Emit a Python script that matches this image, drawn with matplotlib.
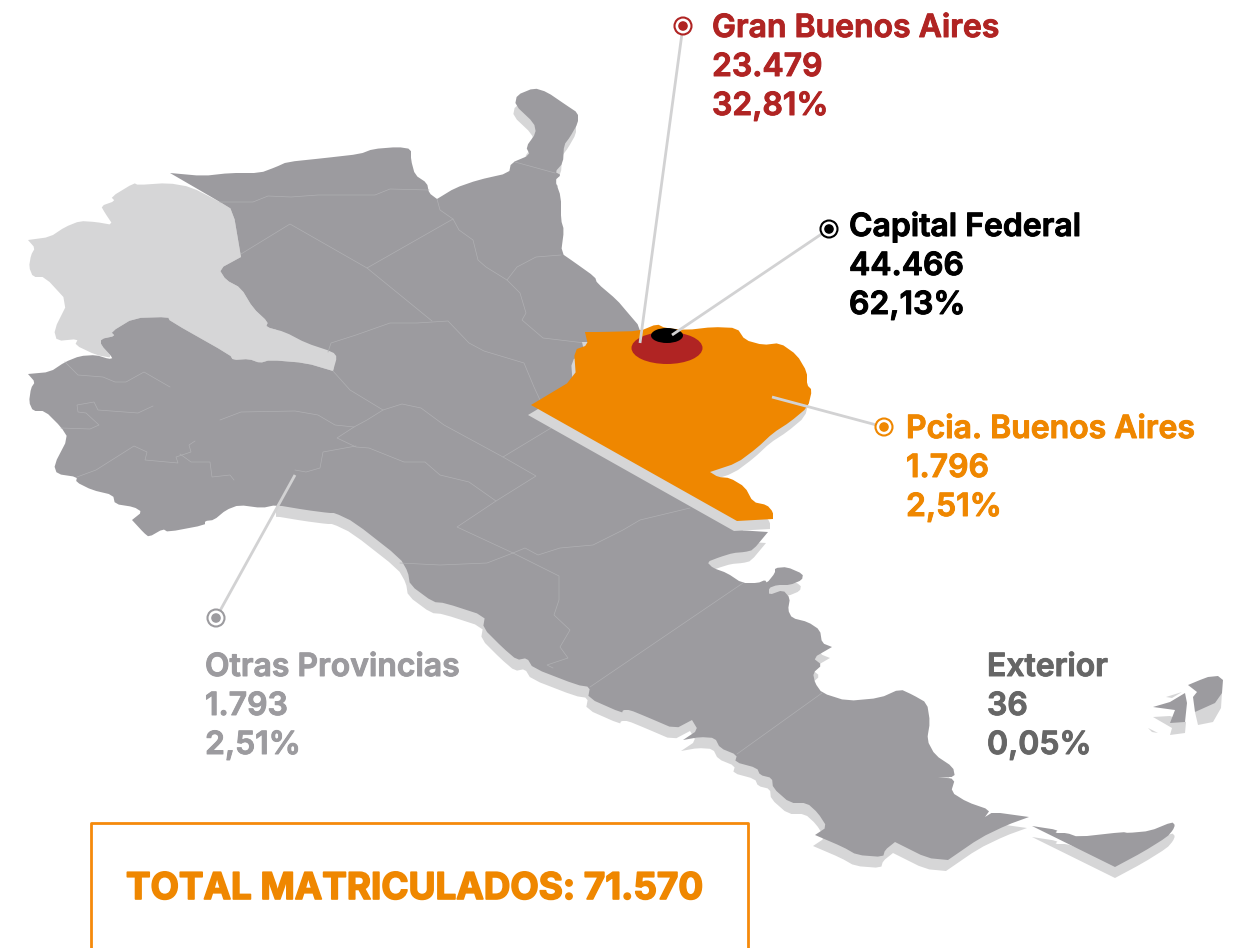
import matplotlib
matplotlib.use('Agg')
import matplotlib.pyplot as plt
import matplotlib.patheffects as pe
from matplotlib.patches import Polygon, Ellipse, Circle, Rectangle

# label data
regions = ['Gran Buenos Aires', 'Capital Federal', 'Pcia. Buenos Aires', 'Otras Provincias', 'Exterior']
counts = ['23.479', '44.466', '1.796', '1.793', '36']
shares = ['32,81%', '62,13%', '2,51%', '2,51%', '0,05%']
total_label = 'TOTAL MATRICULADOS: 71.570'

text_colors = ['#b02423', '#000000', '#ef8700', '#9c9b9f', '#666666']
text_x = [712, 849, 906, 205, 987]
text_y = [37, 236, 438, 676, 676]

# leader lines: marker centre, then the end on the map
marker_xy = [(683, 26), (829, 229), (884, 427), (216, 618)]
leader_end = [(640, 343), (672, 335), (772, 397), (295, 475)]

# map outlines, in picture pixels; a repeated point keeps a sharp tip
mainland = [(170,173),(170,173),(203,176),(230,173),(260,173),(276,167),(287,162),(325,158),(360,154),(373,149),(398,147),
    (411,149),(411,160),(415,175),(427,183),(429,193),(437,199),(437,199),(455,188),(478,180),(509,173),(511,163),(530,155),
    (526,147),(536,133),(534,123),(515,105),(517,95),(534,88),(547,92),(566,105),(578,113),(578,123),(570,137),
    (564,145),(563,163),(555,172),(561,175),(555,180),(561,197),(561,220),(564,230),(561,253),(574,262),(595,277),
    (597,283),(617,300),(628,313),(640,327),(660,400),(700,500),(737,530),(768,532),(768,532),(753,550),(745,552),(733,553),(720,557),(707,562),
    (713,568),(727,573),(742,583),(758,583),(765,580),(767,583),(775,573),(775,568),(787,567),(803,574),(802,580),
    (790,585),(777,585),(769,588),(769,595),(783,590),(790,598),(788,610),(792,618),(808,622),(820,630),(822,643),
    (832,647),(832,647),(813,658),(822,665),(813,673),(815,683),(822,693),(847,701),(880,698),(900,689),(913,695),(927,703),
    (930,722),(927,740),(935,755),(953,767),(955,777),(938,777),(938,777),(955,779),(951,792),(967,802),(990,810),(985,817),(985,817),
    (993,812),(1029,817),(1029,817),(1007,825),(980,838),(948,860),(948,860),(927,858),(895,842),(895,842),(885,850),(883,857),(857,855),(843,847),
    (815,835),(815,835),(827,827),(818,813),(807,803),(790,803),(773,788),(772,778),(760,775),(757,768),(735,762),(737,755),
    (720,748),(715,738),(700,737),(683,740),(683,740),(698,730),(692,720),(692,720),(675,729),(647,717),(630,710),(623,710),(622,713),
    (588,698),(590,687),(577,685),(533,668),(527,658),(517,660),(503,648),(483,628),(485,616),(445,603),(433,602),
    (410,585),(408,572),(400,558),(354,522),(335,513),(329,513),(306,510),(276,505),(262,508),(239,505),(226,510),
    (214,520),(205,521),(205,525),(168,532),(163,529),(149,537),(144,533),(132,520),(132,520),(142,512),(134,507),(115,504),
    (113,495),(92,490),(76,482),(77,477),(57,474),(54,465),(68,438),(61,427),(45,411),(33,411),(29,402),(31,388),
    (35,382),(28,374),(28,374),(50,372),(65,362),(80,356),(96,355),(109,359),(113,358),(101,345),(101,339),(115,336),(111,332),
    (134,318),(168,317),(170,321),(230,355),(233,360),(249,359),(260,363),(270,360),(306,363),(333,371),(333,371),(337,357),
    (333,352),(306,343),(285,332),(266,327),(268,322),(253,308),(241,288),(226,280),(219,269),(241,257),(241,257),(233,210),
    (220,202)]

pale_west = [(134,183),(138,185),(168,183),(191,187),(220,202),(233,210),(241,257),(241,257),(219,269),(226,280),(241,288),
    (253,308),(268,322),(266,327),(285,332),(306,343),(333,352),(337,357),(333,371),(333,371),(306,363),(270,360),(260,363),
    (249,359),(233,360),(230,355),(170,321),(168,317),(134,318),(111,332),(115,336),(101,339),(101,345),(113,358),
    (96,355),(75,345),(78,339),(57,341),(54,330),(68,302),(45,277),(33,277),(29,267),(31,255),(35,248),(28,240),(28,240),
    (50,237),(65,227),(80,221),(96,222),(113,225),(105,213),(101,206),(115,201),(111,197)]

buenos_aires = [(531,405),(531,405),(576,378),(574,350),(588,345),(585,332),(585,332),(600,332),(640,331),(657,324),(665,328),(687,330),
    (713,327),(737,328),(745,340),(763,345),(780,343),(797,355),(807,372),(807,385),(812,390),(808,407),(790,422),
    (773,433),(757,448),(737,463),(710,472),(710,472),(718,477),(730,478),(745,487),(753,502),(767,505),(773,512),(773,519),(773,519),
    (737,521),(737,521)]

tierra_del_fuego = [(1032,826),(1032,826),(1058,830),(1055,833),(1067,833),(1078,837),(1123,832),(1128,833),(1150,831),
    (1172,822),(1175,825),(1173,830),(1167,837),(1143,852),(1115,867),(1115,867)]

malvinas_e = [(1188,685),(1200,680),(1208,677),(1218,676),(1223,680),(1222,693),(1215,703),(1195,712),(1193,697),(1197,692)]
malvinas_w = [(1153,707),(1170,702),(1185,693),(1187,703),(1185,722),(1170,723),(1175,710)]
malvinas_shadow = [[(1195,712),(1222,692),(1221,708),(1213,722),(1198,725)],
    [(1153,717),(1170,716),(1186,722),(1185,733),(1170,735),(1172,728)],
    [(1166,697),(1182,692),(1172,698)], [(1148,728),(1158,733),(1152,732)]]

borders = [
    [(220,202),(253,202),(268,196),(291,197),(318,195),(375,195),(390,189),(429,190)],
    [(241,254),(290,224),(367,268),(453,219)],
    [(367,268),(432,321)],
    [(437,199),(440,210),(453,219),(459,230),(473,240),(478,260),(486,267),(507,280),(520,293),(526,313),(522,320),(543,338),(585,343)],
    [(561,255),(536,257),(517,267),(507,280)],
    [(515,162),(555,173)],
    [(328,352),(331,343),(356,335),(390,323),(417,323),(448,321),(469,343),(484,351),(524,363),(534,387),(540,400)],
    [(333,371),(350,390),(383,410),(402,404),(421,408),(444,425),(503,457),(536,476),(496,501),(457,527),(513,553)],
    [(503,457),(551,428)],
    [(383,410),(367,420),(354,427),(337,438),(356,447),(369,448),(404,462),(425,462),(440,475),(469,482),(496,501)],
    [(220,420),(241,412),(295,411),(318,415),(335,425),(354,427)],
    [(356,446),(323,452),(320,468),(306,472),(295,470)],
    [(77,477),(96,470),(134,446),(147,452),(145,460),(178,463),(176,457),(191,452),(189,445),(195,441)],
    [(180,454),(191,462),(210,462),(212,477),(230,475),(234,480)],
    [(65,362),(78,375),(103,377),(115,382),(126,382),(144,372),(170,387)],
    [(61,428),(90,429),(99,425),(86,413),(78,412),(77,405),(94,402),(98,410),(138,413),(153,406)],
    [(690,508),(640,520),(623,530),(593,545),(560,548),(538,555),(525,548),(513,553)],
    [(400,563),(440,565),(487,563),(513,553)],
    [(513,553),(559,576),(559,600),(554,615),(570,630),(560,647),(568,658),(547,665),(553,668)],
    [(590,687),(743,583)],
    [(737,754),(822,693)],
]

GRAY = '#9c9b9f'
PALE = '#d6d6d7'
ORANGE = '#ef8700'
FONT = 'Inter'

def shifted(pts, dx, dy):
    return [(x + dx, y + dy) for x, y in pts]

# one pass of corner cutting, so the coast is less angular
def soften(pts):
    out = []
    for i, (x0, y0) in enumerate(pts):
        x1, y1 = pts[(i + 1) % len(pts)]
        out.append((0.8 * x0 + 0.2 * x1, 0.8 * y0 + 0.2 * y1))
        out.append((0.2 * x0 + 0.8 * x1, 0.2 * y0 + 0.8 * y1))
    return out

mainland = soften(mainland)
pale_west = soften(pale_west)
buenos_aires = soften(buenos_aires)
tierra_del_fuego = soften(tierra_del_fuego)

fig = plt.figure(figsize=(12.49, 9.48), dpi=100)
ax = fig.add_axes([0, 0, 1, 1])
ax.set_xlim(0, 1249)
ax.set_ylim(948, 0)
ax.axis('off')

# drop shadows; the far west of the coast has none
shadow = Polygon(shifted(mainland, -2, 11), fc=PALE, ec='none', zorder=1)
ax.add_patch(shadow)
shadow.set_clip_path(Rectangle((276, 0), 973, 948, transform=ax.transData))
ax.add_patch(Polygon(shifted(tierra_del_fuego, 0, 11), fc=PALE, ec='none', zorder=1))
for pts in malvinas_shadow:
    ax.add_patch(Polygon(pts, fc=PALE, ec='none', zorder=1))

ax.add_patch(Polygon(pale_west, fc=PALE, ec='none', zorder=2))
for pts in [mainland, tierra_del_fuego, malvinas_e, malvinas_w]:
    ax.add_patch(Polygon(pts, fc=GRAY, ec='none', zorder=2))
for line in borders:
    ax.plot([p[0] for p in line], [p[1] for p in line], color='#b0b0b3', lw=0.5, zorder=3)

ax.add_patch(Polygon(shifted(buenos_aires, -3, 10), fc=PALE, ec='none', zorder=4))
ax.add_patch(Polygon(buenos_aires, fc=ORANGE, ec='none', zorder=5))
ax.add_patch(Ellipse((667, 348), 71, 32, fc=text_colors[0], ec='none', zorder=6))
ax.add_patch(Ellipse((667, 335.5), 32, 15, fc=text_colors[1], ec='none', zorder=7))

for (mx, my), (ex, ey), col in zip(marker_xy, leader_end, text_colors):
    ax.plot([mx, ex], [my, ey], color='#d2d2d3', lw=2, solid_capstyle='butt', zorder=8)
    ax.add_patch(Circle((mx, my), 8.5, fc='white', ec=col, lw=1.5, zorder=9))
    ax.add_patch(Circle((mx, my), 4.8, fc=col, ec='none', zorder=10))

for name, count, share, col, x, y in zip(regions, counts, shares, text_colors, text_x, text_y):
    for k, s in enumerate([name, count, share]):
        t = ax.text(x, y + k * 39, s, color=col, fontsize=23, fontweight='semibold', family=FONT, va='baseline', ha='left', zorder=11)
        t.set_path_effects([pe.withStroke(linewidth=0.7, foreground=col)])

# total box, cut off at the bottom of the picture
ax.plot([91, 91, 748, 748], [948, 823, 823, 948], color='#f58a0b', lw=2, zorder=2)
t = ax.text(126, 899, total_label, color=ORANGE, fontsize=26.5, fontweight='bold', family=FONT, va='baseline', ha='left')
t.set_path_effects([pe.withStroke(linewidth=1.2, foreground=ORANGE)])

fig.savefig('out.png', dpi=100)
